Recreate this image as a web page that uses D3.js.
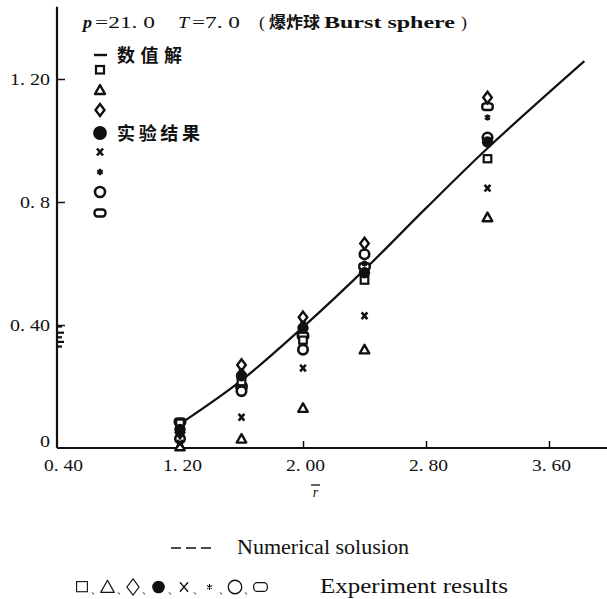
<!DOCTYPE html>
<html>
<head>
<meta charset="utf-8">
<script src="https://cdn.jsdelivr.net/npm/d3@7/dist/d3.min.js"></script>
<style>
  html, body { margin: 0; padding: 0; background: #fff; }
  svg { display: block; }
  .num { font-family: "Liberation Serif", "DejaVu Serif", serif; font-size: 16px; fill: #111; }
  .cjk { font-family: "Noto Sans CJK SC", sans-serif; font-weight: 700; fill: #111; }
</style>
</head>
<body>
<svg id="chart" width="607" height="599"></svg>
<script>
// Radius positions of the measurement stations
const radii = [1.2, 1.6, 2.0, 2.4, 3.2];

// Experimental results, one array per marker type
const squareVals   = [0.080, 0.215, 0.350, 0.545, 0.940];
const triangleVals = [0.005, 0.030, 0.130, 0.320, 0.750];
const diamondVals  = [0.050, 0.270, 0.425, 0.665, 1.140];
const dotVals      = [0.060, 0.235, 0.390, 0.570, 0.995];
const crossVals    = [0.015, 0.100, 0.260, 0.430, 0.845];
const starVals     = [0.045, 0.250, 0.405, 0.600, 1.075];
const circleVals   = [0.030, 0.185, 0.320, 0.630, 1.010];
const rectVals     = [0.085, 0.200, 0.365, 0.590, 1.110];

// Short marks sitting on the ordinate near r = 0.40
const axisMarkVals = [0.395, 0.375, 0.360, 0.345, 0.330];

// Numerical solution curve
const curveR = [1.22, 1.60, 2.00, 2.40, 2.80, 3.20, 3.83];
const curveV = [0.085, 0.220, 0.393, 0.580, 0.780, 0.975, 1.258];

// Axis ticks
const xTicks = [0.4, 1.2, 2.0, 2.8, 3.6];
const xTickLabels = ["0. 40", "1. 20", "2. 00", "2. 80", "3. 60"];
const yTicks = [0, 0.4, 0.8, 1.2];
const yTickLabels = ["0", "0. 40", "0. 8", "1. 20"];

// Marker order in the caption line
const captionMarks = ["square", "triangle", "diamond", "dot", "cross", "star", "circle", "rect"];

const svg = d3.select("#chart");
const x = d3.scaleLinear().domain([0.4, 3.6]).range([57, 549]);
const y = d3.scaleLinear().domain([0, 1.2]).range([448, 79]);
const ink = "#111";

// Axis lines
svg.append("line").attr("x1", x(0.4)).attr("x2", x(3.98))
  .attr("y1", y(0)).attr("y2", y(0)).attr("stroke", ink).attr("stroke-width", 2);
svg.append("line").attr("x1", x(0.4)).attr("x2", x(0.4))
  .attr("y1", y(0)).attr("y2", y(1.435)).attr("stroke", ink).attr("stroke-width", 2.2);

// X axis ticks and labels
const xAxis = d3.axisBottom(x).tickValues(xTicks).tickSize(-7).tickPadding(11)
  .tickFormat((d, i) => xTickLabels[i]);
const gx = svg.append("g").attr("transform", `translate(0,${y(0)})`).call(xAxis);
gx.select(".domain").remove();
gx.selectAll(".tick line").attr("stroke", ink).attr("stroke-width", 1.5);
gx.selectAll(".tick text").attr("class", "num").attr("font-size", null).attr("font-family", null)
  .style("font-size", "17px").attr("dx", 2)
  .attr("textLength", 39).attr("lengthAdjust", "spacingAndGlyphs");
gx.selectAll(".tick").filter(d => d === 0.4).select("line").remove();
gx.selectAll(".tick").filter(d => d === 0.4).select("text").attr("dx", 6);

// Y axis ticks and labels
const yAxis = d3.axisLeft(y).tickValues(yTicks).tickSize(-8).tickPadding(7)
  .tickFormat((d, i) => yTickLabels[i]);
const gy = svg.append("g").attr("transform", `translate(${x(0.4)},0)`).call(yAxis);
gy.select(".domain").remove();
gy.selectAll(".tick line").attr("stroke", ink).attr("stroke-width", 1.5);
gy.selectAll(".tick text").attr("class", "num").attr("font-size", null).attr("font-family", null)
  .style("font-size", "17px")
  .attr("textLength", (d, i) => [10, 40, 30, 40][i]).attr("lengthAdjust", "spacingAndGlyphs");
gy.selectAll(".tick").filter(d => d === 0).select("line").remove();
gy.selectAll(".tick").filter(d => d === 0).select("text").attr("dy", "-0.1em");

// Marks on the ordinate
svg.append("g").selectAll("line").data(axisMarkVals).join("line")
  .attr("x1", x(0.4)).attr("x2", (d, i) => x(0.4) + (i % 2 ? 7 : 5))
  .attr("y1", d => y(d)).attr("y2", d => y(d))
  .attr("stroke", ink).attr("stroke-width", 2.2);

// Numerical solution line
const line = d3.line().x((d, i) => x(curveR[i])).y(d => y(d)).curve(d3.curveCatmullRom.alpha(0.5));
svg.append("path").datum(curveV).attr("d", line)
  .attr("fill", "none").attr("stroke", ink).attr("stroke-width", 2.2);

// Marker painters
function drawMarker(g, type, cx, cy, s, sw) {
  s = s || 1;
  const w = sw || 1;
  switch (type) {
    case "square":
      g.append("rect").attr("x", cx - 4 * s).attr("y", cy - 4 * s).attr("width", 8 * s).attr("height", 7.5 * s)
        .attr("fill", "#fff").attr("stroke", ink).attr("stroke-width", 2.2 * w);
      break;
    case "triangle":
      g.append("path").attr("d", `M${cx},${cy - 5 * s}L${cx + 5 * s},${cy + 4 * s}L${cx - 5 * s},${cy + 4 * s}Z`)
        .attr("fill", "#fff").attr("stroke", ink).attr("stroke-width", 2.4 * w).attr("stroke-linejoin", "round");
      break;
    case "diamond":
      g.append("path").attr("d", `M${cx},${cy - 6 * s}L${cx + 4.5 * s},${cy}L${cx},${cy + 6 * s}L${cx - 4.5 * s},${cy}Z`)
        .attr("fill", "#fff").attr("stroke", ink).attr("stroke-width", 2.4 * w);
      break;
    case "dot":
      g.append("circle").attr("cx", cx).attr("cy", cy).attr("r", 6 * s).attr("fill", ink);
      break;
    case "cross":
      g.append("path").attr("d", `M${cx - 3 * s},${cy - 3.5 * s}L${cx + 3 * s},${cy + 3.5 * s}M${cx + 3 * s},${cy - 3.5 * s}L${cx - 3 * s},${cy + 3.5 * s}`)
        .attr("stroke", ink).attr("stroke-width", 2.6 * w);
      break;
    case "star":
      g.append("path").attr("d", d3.symbol().type(d3.symbolAsterisk || d3.symbolStar).size(28 * s * s)())
        .attr("transform", `translate(${cx},${cy})`).attr("fill", ink).attr("stroke", ink).attr("stroke-width", 2.2 * w);
      break;
    case "circle":
      g.append("circle").attr("cx", cx).attr("cy", cy).attr("r", 5 * s)
        .attr("fill", "#fff").attr("stroke", ink).attr("stroke-width", 2.6 * w);
      break;
    case "rect":
      g.append("rect").attr("x", cx - 5.5 * s).attr("y", cy - 3.5 * s).attr("width", 11 * s).attr("height", 7 * s)
        .attr("rx", 3 * s).attr("fill", "#fff").attr("stroke", ink).attr("stroke-width", 2.4 * w);
      break;
  }
}

const seriesList = [
  { type: "rect", vals: rectVals },
  { type: "square", vals: squareVals },
  { type: "circle", vals: circleVals },
  { type: "triangle", vals: triangleVals },
  { type: "cross", vals: crossVals },
  { type: "diamond", vals: diamondVals },
  { type: "star", vals: starVals },
  { type: "dot", vals: dotVals }
];

const pts = svg.append("g");
seriesList.forEach(sr => {
  sr.vals.forEach((v, i) => drawMarker(pts, sr.type, x(radii[i]), y(v), 0.95));
});

// Heading, laid out piece by piece
const headPieces = [
  { t: "p", x: 83, w: 9, it: true, bold: true },
  { t: "=21. 0", x: 95, w: 60 },
  { t: "T", x: 178, w: 11, it: true },
  { t: "=7. 0", x: 192, w: 48 },
  { t: "(", x: 259, w: 6 },
  { t: "爆炸球", x: 269, w: 51, cjk: true },
  { t: "Burst sphere", x: 324, w: 131, bold: true },
  { t: ")", x: 461, w: 6 }
];
headPieces.forEach(p => {
  const t = svg.append("text").attr("x", p.x).attr("y", 28)
    .attr("class", p.cjk ? "cjk" : "num").style("font-size", p.cjk ? "16px" : "17px")
    .attr("textLength", p.w).attr("lengthAdjust", "spacingAndGlyphs").text(p.t);
  if (p.it) t.attr("font-style", "italic");
  if (p.bold) t.attr("font-weight", "700");
});

// In-plot key
const keyX = 100;
svg.append("line").attr("x1", keyX - 6).attr("x2", keyX + 7).attr("y1", 55).attr("y2", 55)
  .attr("stroke", ink).attr("stroke-width", 2.4);
svg.append("text").attr("x", 117).attr("y", 62).attr("class", "cjk").style("font-size", "18px")
  .attr("textLength", 65).attr("lengthAdjust", "spacing").text("数值解");
const keyRows = [
  ["square", 70], ["triangle", 90], ["diamond", 110], ["dot", 133],
  ["cross", 152], ["star", 172], ["circle", 192], ["rect", 213]
];
keyRows.forEach(([t, yy]) => drawMarker(svg, t, keyX, yy, t === "dot" ? 1.15 : 1));
svg.append("text").attr("x", 117).attr("y", 140).attr("class", "cjk").style("font-size", "18px")
  .attr("textLength", 83).attr("lengthAdjust", "spacing").text("实验结果");

// Axis title r with overbar
svg.append("line").attr("x1", 311).attr("x2", 320).attr("y1", 485).attr("y2", 485).attr("stroke", ink).attr("stroke-width", 1.3);
svg.append("text").attr("x", 315.5).attr("y", 497).attr("text-anchor", "middle").attr("class", "num")
  .attr("font-style", "italic").style("font-size", "14px").text("r");

// Bottom caption: dashed line entry
svg.append("line").attr("x1", 171).attr("x2", 212).attr("y1", 548).attr("y2", 548)
  .attr("stroke", ink).attr("stroke-width", 1.4).attr("stroke-dasharray", "10,5");
svg.append("text").attr("x", 237).attr("y", 554).attr("class", "num").style("font-size", "20px")
  .attr("textLength", 172).attr("lengthAdjust", "spacingAndGlyphs").text("Numerical solusion");

// Bottom caption: marker list separated by ideographic commas
const capX0 = 82, capStep = 25.5, capY = 587;
captionMarks.forEach((t, i) => {
  const cx = capX0 + i * capStep;
  const sc = t === "dot" ? 1.05 : t === "rect" ? 1.25 : t === "star" ? 0.9 : 1.35;
  drawMarker(svg, t, cx, capY, sc, 0.5);
  if (i < captionMarks.length - 1) {
    svg.append("text").attr("x", cx + 8).attr("y", capY + 6).attr("class", "num")
      .style("font-size", "13px").text("、");
  }
});
svg.append("text").attr("x", 320).attr("y", 593).attr("class", "num").style("font-size", "20px")
  .attr("textLength", 188).attr("lengthAdjust", "spacingAndGlyphs").text("Experiment results");
</script>
</body>
</html>
